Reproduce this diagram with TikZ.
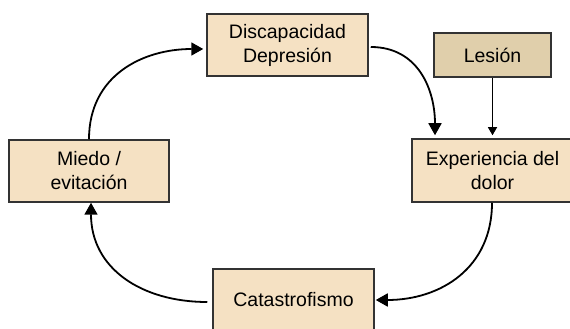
\documentclass[tikz,border=0pt]{standalone}
\usepackage{fontspec}
\setmainfont{Liberation Sans}
\usetikzlibrary{arrows.meta}
\definecolor{boxfill}{HTML}{F5E1C3}
\definecolor{lesfill}{HTML}{E0CFAB}
\definecolor{boxline}{HTML}{333333}
\tikzset{
  stagebox/.style={draw=boxline, line width=1.5pt, fill=boxfill, minimum width=161pt, minimum height=62pt, align=center, inner sep=2pt,
    font=\fontsize{19.5pt}{24pt}\selectfont},
  flow/.style={line width=1.8pt, -{Triangle[length=12pt,width=13pt]}},
  thinflow/.style={line width=1.1pt, -{Triangle[length=8pt,width=9pt]}}
}
\begin{document}
\begin{tikzpicture}[x=1pt,y=1pt]
\useasboundingbox (0,0) rectangle (570,329);
\clip (0,0) rectangle (570,329);
\node[stagebox] (disc) at (287.5,284) {Discapacidad\\Depresión};
\node[stagebox, fill=lesfill, minimum width=117pt, minimum height=44pt] (les) at (492.5,274) {Lesión};
\node[stagebox, minimum height=63pt] (exp) at (492.5,158.5) {Experiencia del\\dolor};
\node[stagebox, minimum width=160pt] (miedo) at (89,158) {Miedo /\\evitación};
\node[stagebox] (cat) at (293.5,29) {Catastrofismo};
\coordinate (m1) at (miedo.north);
\coordinate (d1) at ([yshift=-4pt]disc.west);
\coordinate (d2) at ([xshift=2pt,yshift=-2pt]disc.east);
\coordinate (e1) at (exp.north -| 435,0);
\coordinate (e2) at (exp.south -| 492,0);
\coordinate (c1) at ([xshift=1pt,yshift=0pt]cat.east);
\coordinate (c2) at ([xshift=-5pt,yshift=-2pt]cat.west);
\coordinate (m2) at (miedo.south -| 91,0);
\draw[flow, shorten >=3pt] (m1) to[out=90,in=180,looseness=1.1] (d1);
\draw[flow, shorten >=3pt] (d2) to[out=0,in=90,looseness=1.1] (e1);
\draw[thinflow, shorten >=3pt] (les.south) -- (les.south |- exp.north);
\draw[flow] (e2) to[out=-90,in=0,looseness=1.1] (c1);
\draw[flow] (c2) to[out=180,in=-90,looseness=1.1] (m2);
\end{tikzpicture}
\end{document}
